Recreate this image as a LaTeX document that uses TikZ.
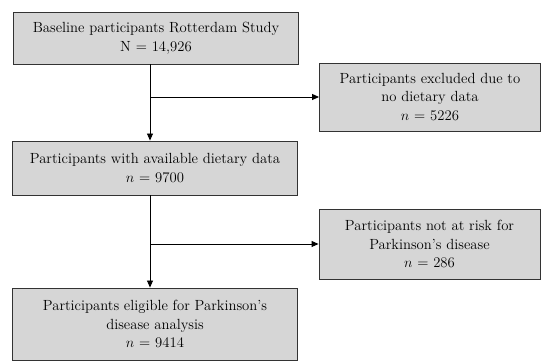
\documentclass[tikz,border=0pt]{standalone}
\usepackage{amsmath}
\usepackage{tikz}
\usetikzlibrary{arrows.meta,positioning}

\begin{document}
\begin{tikzpicture}[
  x=1pt, y=1pt,
  >={Triangle[length=7pt,width=6pt]}, font=\fontsize{14.7}{18.5}\selectfont,
  box/.style={draw=black!80, fill=black!16, line width=0.9pt, align=center, inner sep=2pt},
  main/.style={box, minimum width=285pt},
  side/.style={box, minimum width=221pt},
  link/.style={line width=0.9pt}
]
\useasboundingbox (0,0) rectangle (550,-363);

% ---------- MAIN LANE ----------
\node[main, minimum height=52pt] (b1) at (156,-38) {Baseline participants Rotterdam Study\\N = 14,926};
\node[main, minimum height=54pt] (b2) at (155,-168) {Participants with available dietary data\\$n$ = 9700};
\node[main, minimum height=72pt] (b3) at (155,-324) {Participants eligible for Parkinson's\\disease analysis\\$n$ = 9414};

% ---------- EXCLUSIONS ----------
\node[side, minimum height=68pt] (x1) at (430,-97) {Participants excluded due to\\no dietary data\\$n$ = 5226};
\node[side, minimum height=70pt] (x2) at (429.5,-244) {Participants not at risk for\\Parkinson's disease\\$n$ = 286};

\coordinate (trunk) at (150,0);

\draw[link, ->] (b1.south -| trunk) -- (b2.north -| trunk);
\draw[link, ->] (trunk |- x1.west) -- (x1.west);
\draw[link, ->] (b2.south -| trunk) -- (b3.north -| trunk);
\draw[link, ->] (trunk |- x2.west) -- (x2.west);

\end{tikzpicture}
\end{document}
